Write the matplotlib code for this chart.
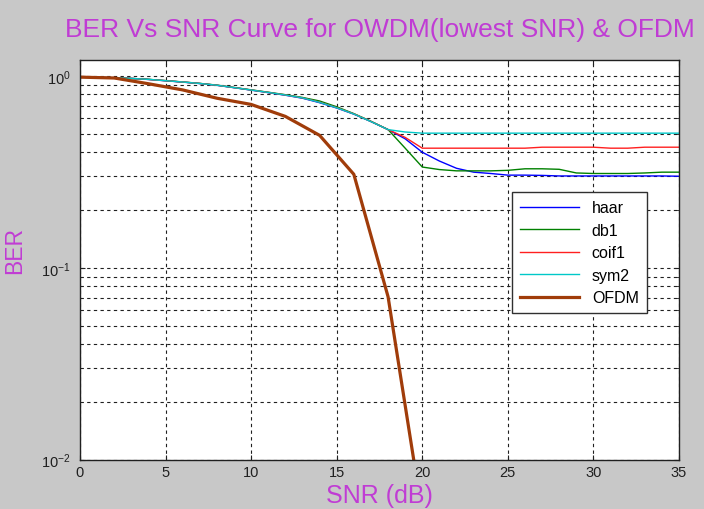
import matplotlib
matplotlib.use("Agg")
import matplotlib.pyplot as plt
import numpy as np

# SNR axis (dB)
snr_wav = list(range(0, 36))
snr_ofdm = list(range(0, 21, 2))

# BER per wavelet
haar = [0.985, 0.982, 0.978, 0.970, 0.958, 0.943, 0.928, 0.912, 0.893, 0.868,
        0.843, 0.818, 0.793, 0.765, 0.725, 0.680, 0.632, 0.578, 0.525,
        0.470, 0.400, 0.360, 0.330, 0.315, 0.310, 0.304, 0.304, 0.303,
        0.301, 0.301, 0.301, 0.301, 0.301, 0.301, 0.301, 0.300]
db1 = [0.985, 0.982, 0.978, 0.970, 0.960, 0.945, 0.930, 0.914, 0.895, 0.870,
       0.846, 0.822, 0.798, 0.772, 0.740, 0.690, 0.636, 0.580, 0.525,
       0.420, 0.335, 0.325, 0.320, 0.320, 0.320, 0.322, 0.328, 0.328,
       0.326, 0.312, 0.310, 0.310, 0.310, 0.312, 0.315, 0.315]
coif1 = [0.985, 0.982, 0.978, 0.970, 0.958, 0.944, 0.929, 0.913, 0.894, 0.869,
         0.844, 0.820, 0.795, 0.768, 0.730, 0.683, 0.634, 0.579, 0.525,
         0.478, 0.420, 0.420, 0.420, 0.420, 0.420, 0.420, 0.420, 0.425,
         0.425, 0.425, 0.425, 0.420, 0.420, 0.425, 0.425, 0.425]
sym2 = [0.985, 0.982, 0.978, 0.970, 0.959, 0.944, 0.929, 0.913, 0.894, 0.869,
        0.844, 0.820, 0.795, 0.768, 0.728, 0.682, 0.633, 0.578, 0.525,
        0.510, 0.503, 0.503, 0.503, 0.503, 0.503, 0.503, 0.503, 0.503,
        0.503, 0.503, 0.503, 0.503, 0.503, 0.503, 0.503, 0.503]
ofdm = [0.985, 0.975, 0.91, 0.845, 0.765, 0.71, 0.615, 0.49, 0.307, 0.0707, 0.0052]

labels = ["haar", "db1", "coif1", "sym2", "OFDM"]
colors = ["#0000ff", "#008000", "#ff2020", "#00c8c8", "#a03c0a"]

plt.rcParams["font.family"] = ["Liberation Sans", "DejaVu Sans"]
plt.rcParams["mathtext.fontset"] = "custom"
plt.rcParams["mathtext.rm"] = "Liberation Sans"
plt.rcParams["mathtext.it"] = "Liberation Sans"

bg = "#c8c8c8"
purple = "#c03cd4"

fig = plt.figure(figsize=(7.04, 5.10), dpi=100, facecolor=bg)
ax = fig.add_axes([80 / 704, 1 - 460.7 / 510, (679 - 80) / 704, (460.7 - 61) / 510])

for ys, lab, col in zip([haar, db1, coif1, sym2], labels[:4], colors[:4]):
    ax.plot(snr_wav, ys, color=col, lw=1.0, label=lab)
ax.plot(snr_ofdm, ofdm, color=colors[4], lw=2.3, label=labels[4])

ax.set_yscale("log")
ax.set_xlim(0, 35)
ax.set_ylim(0.01, 1.21)
ax.set_xticks(range(0, 36, 5))

grid_kw = dict(color="#202020", linestyle=(0, (3, 3)), linewidth=0.8)
ax.grid(True, which="major", **grid_kw)
ax.grid(True, which="minor", axis="y", **grid_kw)

ax.tick_params(which="both", direction="in", top=True, right=True,
               labelsize=10.5, colors="#202020")
ax.tick_params(axis="y", pad=7)
ax.tick_params(which="minor", length=2)
for sp in ax.spines.values():
    sp.set_color("#202020")
    sp.set_linewidth(1.0)

ax.set_title("BER Vs SNR Curve for OWDM(lowest SNR) & OFDM",
             color=purple, fontsize=19, pad=17)
ax.set_xlabel("SNR (dB)", color=purple, fontsize=18, labelpad=3)
ax.set_ylabel("BER", color=purple, fontsize=16.5)
ax.yaxis.set_label_coords(-0.09, 0.527)

leg = ax.legend(loc="upper left", bbox_to_anchor=(512 / 704, 1 - 193.3 / 510),
                bbox_transform=fig.transFigure, borderaxespad=0,
                fancybox=False, framealpha=1, edgecolor="#303030",
                fontsize=11.5, handlelength=3.7, labelspacing=0.47,
                borderpad=0.5)
leg.get_frame().set_linewidth(1.0)

fig.savefig("out.png", dpi=100, facecolor=bg)
